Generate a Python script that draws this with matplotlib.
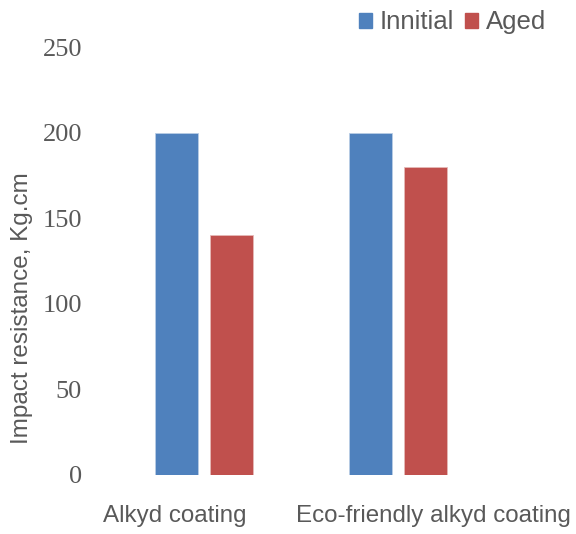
import numpy as np
import matplotlib.pyplot as plt
from matplotlib.patches import Patch

# impact resistance of the two coatings before and after ageing
categories = ['Alkyd coating', 'Eco-friendly alkyd coating']
initial = [200, 200]
aged = [140, 180]
series_names = ['Innitial', 'Aged']
yticks = [0, 50, 100, 150, 200, 250]

blue = '#4F81BD'
red = '#C0504D'
grey = '#595959'

fig = plt.figure(figsize=(5.76, 5.34), dpi=100)
ax = fig.add_axes([0.1858, 0.1105, 0.6736, 0.8013])

x = np.arange(len(categories))
w = 0.222
off = 0.142
ax.bar(x - off, initial, width=w, color=blue, edgecolor='#b9cde5', linewidth=0.6)
ax.bar(x + off, aged, width=w, color=red, edgecolor='#e6b9b8', linewidth=0.6)

ax.set_xlim(-0.5, 1.5)
ax.set_ylim(0, 250)
ax.set_yticks(yticks)
ax.set_yticklabels([str(v) for v in yticks], family='Liberation Serif',
                   fontsize=19, color=grey)
ax.tick_params(axis='y', length=0, pad=18)
ax.set_xticks([])
for s in ax.spines.values():
    s.set_visible(False)

ax.set_ylabel('Impact resistance, Kg.cm', family='Liberation Sans',
              fontsize=17.5, color=grey)
ax.yaxis.set_label_coords(-0.19, 0.39)

# category names sit a little off the bar groups
fig.text(0.304, 0.033, categories[0], family='Liberation Sans', fontsize=17.4,
         color=grey, ha='center', va='center')
fig.text(0.753, 0.033, categories[1], family='Liberation Sans', fontsize=17.4,
         color=grey, ha='center', va='center')

handles = [Patch(color=blue), Patch(color=red)]
fig.legend(handles, series_names, loc='center right', bbox_to_anchor=(0.948, 0.958),
           ncol=2, frameon=False, borderpad=0, borderaxespad=0,
           handlelength=0.5, handleheight=0.5, handletextpad=0.31,
           columnspacing=0.43, prop={'family': 'Liberation Sans', 'size': 18.5},
           labelcolor=grey)

fig.savefig('out.png', dpi=100)
